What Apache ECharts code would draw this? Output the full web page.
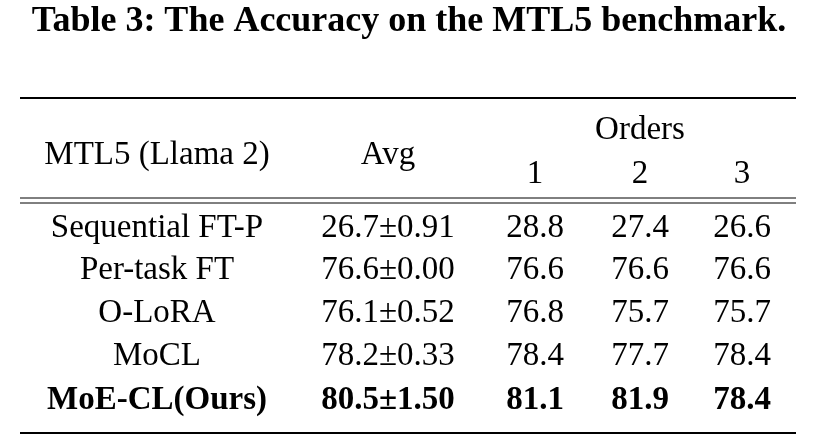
<!DOCTYPE html>
<html><head><meta charset="utf-8">
<script src="https://cdn.jsdelivr.net/npm/echarts@6/dist/echarts.min.js"></script>
<style>html,body{margin:0;background:#fff}#c{width:818px;height:446px}</style>
</head><body><div id="c"></div>
<script>
const title = "Table 3: The Accuracy on the MTL5 benchmark.";
const headers = ["MTL5 (Llama 2)", "Avg"];
const orderLabels = ["1", "2", "3"];
const methods = ["Sequential FT-P", "Per-task FT", "O-LoRA", "MoCL", "MoE-CL(Ours)"];
const avgVals = ["26.7±0.91", "76.6±0.00", "76.1±0.52", "78.2±0.33", "80.5±1.50"];
const order1 = ["28.8", "76.6", "76.8", "78.4", "81.1"];
const order2 = ["27.4", "76.6", "75.7", "77.7", "81.9"];
const order3 = ["26.6", "76.6", "75.7", "78.4", "78.4"];

const F = "'Liberation Serif','DejaVu Serif',serif";
const colX = [157, 388, 535, 640, 742];
const rowY = [228, 270, 313, 356, 400];
const els = [];
function txt(x, y, s, bold, size) {
  els.push({type:'text', x, y, style:{text:s, font:(bold?'bold ':'')+(size||33)+'px '+F, fill:'#000', textAlign:'center', textVerticalAlign:'middle'}});
}
function rule(y, w) {
  els.push({type:'line', shape:{x1:20, y1:y, x2:796, y2:y}, style:{stroke:'#000', lineWidth:w}});
}
txt(409, 22, title, true, 36);
rule(98, 2.2);
txt(colX[0], 155, headers[0]);
txt(colX[1], 155, headers[1]);
txt(640, 130, "Orders");
orderLabels.forEach((o,i)=>txt(colX[2+i], 174, o));
rule(198, 1);
rule(203, 1);
methods.forEach((m,i)=>{
  const b = i === methods.length-1;
  [m, avgVals[i], order1[i], order2[i], order3[i]].forEach((v,j)=>txt(colX[j], rowY[i], v, b));
});
rule(433, 2.2);
const chart = echarts.init(document.getElementById('c'));
chart.setOption({graphic:{elements:els}});
</script></body></html>
